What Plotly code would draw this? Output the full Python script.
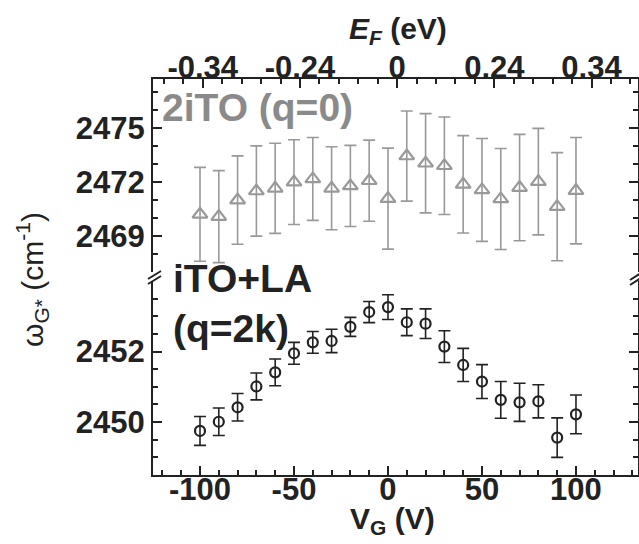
import plotly.graph_objects as go

# gate voltage (V)
vg = [-100, -90, -80, -70, -60, -50, -40, -30, -20, -10, 0,
      10, 20, 30, 40, 50, 60, 70, 80, 90, 100]

# 2iTO (q=0) peak position and error (cm^-1)
ito2 = [2470.20, 2470.07, 2470.99, 2471.49, 2471.64, 2471.98, 2472.16, 2471.64, 2471.77, 2472.06, 2471.07,
        2473.43, 2473.03, 2472.89, 2471.86, 2471.55, 2471.05, 2471.68, 2472.01, 2470.62, 2471.51]
ito2_err = [2.6, 2.55, 2.45, 2.5, 2.5, 2.35, 2.3, 2.3, 2.25, 2.25, 2.8,
            2.5, 2.75, 2.7, 2.7, 2.85, 2.8, 2.95, 2.95, 3.0, 2.95]

# iTO+LA (q=2k) peak position and error (cm^-1)
itola = [2449.75, 2450.01, 2450.42, 2451.01, 2451.41, 2451.95, 2452.26, 2452.30, 2452.70, 2453.12, 2453.26,
         2452.83, 2452.79, 2452.14, 2451.62, 2451.15, 2450.63, 2450.56, 2450.59, 2449.56, 2450.22]
itola_err = [0.41, 0.39, 0.39, 0.38, 0.38, 0.31, 0.31, 0.33, 0.27, 0.30, 0.35,
             0.38, 0.42, 0.45, 0.47, 0.48, 0.52, 0.54, 0.47, 0.56, 0.55]

# tick labels
vg_ticks = [-100, -50, 0, 50, 100]
vg_labels = ["-100", "-50", "0", "50", "100"]
ef_labels = ["-0.34", "-0.24", "0", "0.24", "0.34"]   # Fermi energy at the same gate voltages
top_ticks = [2469, 2472, 2475]
bot_ticks = [2450, 2452]

W, H = 639, 544
L, R, T, B = 153, 1, 79, 69
pw, ph = W - L - R, H - T - B


def px(x, y):
    # pixel -> paper coords
    return (x - L) / pw, (H - B - y) / ph


top_bot = px(0, 272)[1]
bot_top = px(0, 281)[1]

xr_bot = [-125, 133]
xr_top = [-125.6, 123.9]

gray = "#999999"
dark = "#222222"
fam = "Liberation Sans"

fig = go.Figure()

fig.add_trace(go.Scatter(
    x=vg, y=ito2, xaxis="x", yaxis="y2", mode="markers",
    marker=dict(symbol="triangle-up-open", size=13, color=gray, line=dict(width=2.2, color=gray)),
    error_y=dict(type="data", array=ito2_err, color=gray, thickness=1.6, width=6),
    showlegend=False))

fig.add_trace(go.Scatter(
    x=vg, y=itola, xaxis="x", yaxis="y", mode="markers",
    marker=dict(symbol="circle-open", size=10, color=dark, line=dict(width=2.2, color=dark)),
    error_y=dict(type="data", array=itola_err, color=dark, thickness=1.6, width=6),
    showlegend=False))

# empty traces so the extra x axes get drawn
for xa, ya in [("x2", "y2"), ("x3", "y"), ("x4", "y2")]:
    fig.add_trace(go.Scatter(x=vg_ticks, y=[None] * len(vg_ticks), xaxis=xa, yaxis=ya,
                             mode="markers", showlegend=False, hoverinfo="skip"))

tickfont = dict(family=fam, size=31, color=dark, weight="bold")
axline = dict(showline=True, linecolor=dark, linewidth=2, showgrid=False, zeroline=False,
              ticks="inside", tickcolor=dark, tickwidth=2, ticklen=9, tickfont=tickfont,
              automargin=False)
labels_only = dict(showline=False, ticks="", showgrid=False, zeroline=False, tickfont=tickfont,
                   automargin=False, anchor="free", overlaying="x", tickmode="array", tickvals=vg_ticks)

fig.update_layout(
    width=W, height=H,
    margin=dict(l=L, r=R, t=T, b=B),
    plot_bgcolor="white", paper_bgcolor="white",
    font=dict(family=fam, color=dark),
    xaxis=dict(range=xr_bot, anchor="y", tickmode="array", tickvals=vg_ticks, showticklabels=False,
               minor=dict(ticks="inside", dtick=10, tick0=0, ticklen=5, tickwidth=2, tickcolor=dark),
               **axline),
    xaxis2=dict(range=xr_top, overlaying="x", side="top", anchor="y2",
                tickmode="array", tickvals=vg_ticks, showticklabels=False,
                minor=dict(ticks="inside", dtick=10, tick0=0, ticklen=5, tickwidth=2, tickcolor=dark),
                **axline),
    # tick labels sit closer to the frame than plotly's default, so they get their own axes
    xaxis3=dict(range=xr_bot, side="bottom", position=px(0, 468)[1], ticktext=vg_labels, **labels_only),
    xaxis4=dict(range=xr_top, side="top", position=px(0, 84)[1], ticktext=ef_labels, **labels_only),
    yaxis=dict(range=[2448.5, 2454.0], domain=[0, bot_top], tickmode="array", tickvals=bot_ticks,
               mirror="ticks",
               minor=dict(ticks="inside", dtick=0.5, tick0=2450, ticklen=5, tickwidth=2, tickcolor=dark),
               **axline),
    yaxis2=dict(range=[2467.0, 2477.7], domain=[top_bot, 1], tickmode="array", tickvals=top_ticks,
                mirror="ticks", anchor="x",
                minor=dict(ticks="inside", dtick=1, tick0=2469, ticklen=5, tickwidth=2, tickcolor=dark),
                **axline),
)

titlefont = dict(family=fam, size=30, color=dark, weight="bold")
fig.add_annotation(text="V<sub>G</sub> (V)", xref="paper", yref="paper",
                   x=px(392, 0)[0], y=px(0, 520)[1], xanchor="center", yanchor="middle",
                   showarrow=False, font=titlefont)
fig.add_annotation(text="<i>E</i><sub><i>F</i></sub> (eV)", xref="paper", yref="paper",
                   x=px(398, 0)[0], y=px(0, 30)[1], xanchor="center", yanchor="middle",
                   showarrow=False, font=titlefont)

# axis title on the left, centred on the break
fig.add_annotation(text="ω<sub>G*</sub> (cm<sup>-1</sup>)", textangle=-90,
                   xref="paper", yref="paper", x=px(32, 0)[0], y=px(0, 280)[1],
                   xanchor="center", yanchor="middle",
                   showarrow=False, font=dict(family=fam, size=30, color=dark))

fig.add_annotation(text="2iTO (q=0)", xref="paper", yref="paper",
                   x=px(160, 0)[0], y=px(0, 108)[1], xanchor="left", yanchor="middle",
                   showarrow=False, font=dict(family=fam, size=39, color="#8a8a8a", weight="bold"))
fig.add_annotation(text="iTO+LA", xref="paper", yref="paper",
                   x=px(171, 0)[0], y=px(0, 278)[1], xanchor="left", yanchor="middle",
                   showarrow=False, font=dict(family=fam, size=39, color=dark, weight="bold"))
fig.add_annotation(text="(q=2k)", xref="paper", yref="paper",
                   x=px(171, 0)[0], y=px(0, 328)[1], xanchor="left", yanchor="middle",
                   showarrow=False, font=dict(family=fam, size=39, color=dark, weight="bold"))

# break marks on both vertical axes
for (x0, y0, x1, y1) in [(148, 284, 161, 276), (148, 279, 161, 271),
                         (630, 285, 641, 278), (630, 280, 641, 273)]:
    a0, b0 = px(x0, y0)
    a1, b1 = px(x1, y1)
    fig.add_shape(type="line", xref="paper", yref="paper", x0=a0, y0=b0, x1=a1, y1=b1,
                  line=dict(color=dark, width=2))

# drop the default 8px page margin so the figure fills the window
fig.write_html("out.html", config={"displayModeBar": False},
               post_script="document.body.style.margin='0';")
